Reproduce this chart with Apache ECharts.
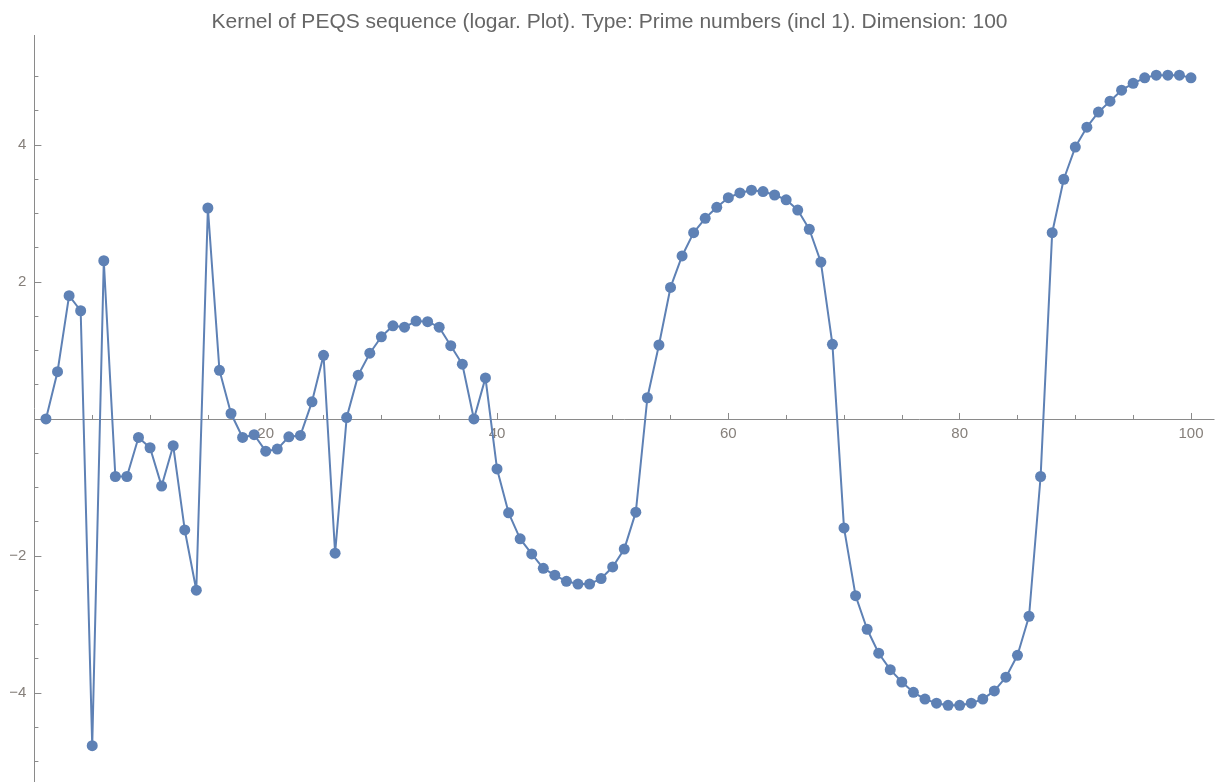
<!DOCTYPE html>
<html>
<head>
<meta charset="utf-8">
<script src="https://cdn.jsdelivr.net/npm/echarts@6/dist/echarts.min.js"></script>
<style>
html,body{margin:0;padding:0;background:#fff;}
#chart{width:1219px;height:782px;}
</style>
</head>
<body>
<div id="chart"></div>
<script>
const titleText = "Kernel of PEQS sequence (logar. Plot). Type: Prime numbers (incl 1). Dimension: 100";
const xValues = Array.from({length: 100}, (_, i) => i + 1);
const kernelValues = [
  0, 0.69, 1.80, 1.58, -4.77, 2.31, -0.84, -0.84, -0.27, -0.42,
  -0.98, -0.39, -1.62, -2.50, 3.08, 0.71, 0.08, -0.27, -0.23, -0.47,
  -0.44, -0.26, -0.24, 0.25, 0.93, -1.96, 0.02, 0.64, 0.96, 1.20,
  1.36, 1.34, 1.43, 1.42, 1.34, 1.07, 0.80, 0.00, 0.60, -0.73,
  -1.37, -1.75, -1.97, -2.18, -2.28, -2.37, -2.41, -2.41, -2.33, -2.16,
  -1.90, -1.36, 0.31, 1.08, 1.92, 2.38, 2.72, 2.93, 3.09, 3.23,
  3.30, 3.34, 3.32, 3.27, 3.20, 3.05, 2.77, 2.29, 1.09, -1.59,
  -2.58, -3.07, -3.42, -3.66, -3.84, -3.99, -4.09, -4.15, -4.18, -4.18,
  -4.15, -4.09, -3.97, -3.77, -3.45, -2.88, -0.84, 2.72, 3.50, 3.97,
  4.26, 4.48, 4.64, 4.80, 4.90, 4.98, 5.02, 5.02, 5.02, 4.98
];
const xMajorTicks = [20, 40, 60, 80, 100];
const xMinorTicks = [5, 10, 15, 25, 30, 35, 45, 50, 55, 65, 70, 75, 85, 90, 95];
const yMajorTicks = [-4, -2, 2, 4];
const yMinorTicks = [-5, -4.5, -3.5, -3, -2.5, -1.5, -1, -0.5, 0.5, 1, 1.5, 2.5, 3, 3.5, 4.5, 5];

const axisColor = '#8a8a8a';
const labelColor = '#857f7a';
const lineColor = '#5E81B5';

const yMin = -5.3, yMax = 5.6;
const gridTop = 35.4, gridBottom = 0, chartH = 782;
// pixel offset to move the x axis from the grid bottom up to y = 0
const plotH = chartH - gridTop - gridBottom;
const zeroOffset = -(plotH * (0 - yMin) / (yMax - yMin));

const chart = echarts.init(document.getElementById('chart'), null, {renderer: 'canvas'});
const points = xValues.map((x, i) => [x, kernelValues[i]]);

chart.setOption({
  animation: false,
  backgroundColor: '#ffffff',
  title: {
    text: titleText,
    left: 'center',
    top: 7,
    textStyle: {fontFamily: 'Liberation Sans, Arial, sans-serif', fontSize: 21, fontWeight: 'normal', color: '#666666'}
  },
  grid: {left: 34.4, right: 4.9, top: gridTop, bottom: gridBottom, containLabel: false, outerBoundsMode: 'none'},
  xAxis: [
    {
      type: 'value', min: 0, max: 102, position: 'bottom', offset: zeroOffset,
      axisLine: {show: true, onZero: false, lineStyle: {color: axisColor, width: 1}},
      axisTick: {show: true, inside: true, length: 6, customValues: xMajorTicks, lineStyle: {color: axisColor}},
      axisLabel: {show: true, customValues: xMajorTicks, color: labelColor, fontSize: 15, fontFamily: 'Liberation Sans, Arial, sans-serif', margin: 7},
      splitLine: {show: false}
    },
    {
      type: 'value', min: 0, max: 102, position: 'bottom', offset: zeroOffset,
      axisLine: {show: false, onZero: false},
      axisTick: {show: true, inside: true, length: 4, customValues: xMinorTicks, lineStyle: {color: axisColor}},
      axisLabel: {show: false},
      splitLine: {show: false}
    }
  ],
  yAxis: [
    {
      type: 'value', min: yMin, max: yMax, position: 'left',
      axisLine: {show: true, onZero: false, lineStyle: {color: axisColor, width: 1}},
      axisTick: {show: true, inside: true, length: 7, customValues: yMajorTicks, lineStyle: {color: axisColor}},
      axisLabel: {show: true, customValues: yMajorTicks, color: labelColor, fontSize: 15, fontFamily: 'Liberation Sans, Arial, sans-serif', margin: 8,
        formatter: v => (v < 0 ? '\u2212' + Math.abs(v) : String(v))},
      splitLine: {show: false}
    },
    {
      type: 'value', min: yMin, max: yMax, position: 'left',
      axisLine: {show: false, onZero: false},
      axisTick: {show: true, inside: true, length: 4, customValues: yMinorTicks, lineStyle: {color: axisColor}},
      axisLabel: {show: false},
      splitLine: {show: false}
    }
  ],
  series: [{
    type: 'line',
    xAxisIndex: 0,
    yAxisIndex: 0,
    data: points,
    symbol: 'circle',
    symbolSize: 11,
    showAllSymbol: true,
    clip: false,
    lineStyle: {color: lineColor, width: 2},
    itemStyle: {color: lineColor, borderWidth: 0}
  }]
});
</script>
</body>
</html>
